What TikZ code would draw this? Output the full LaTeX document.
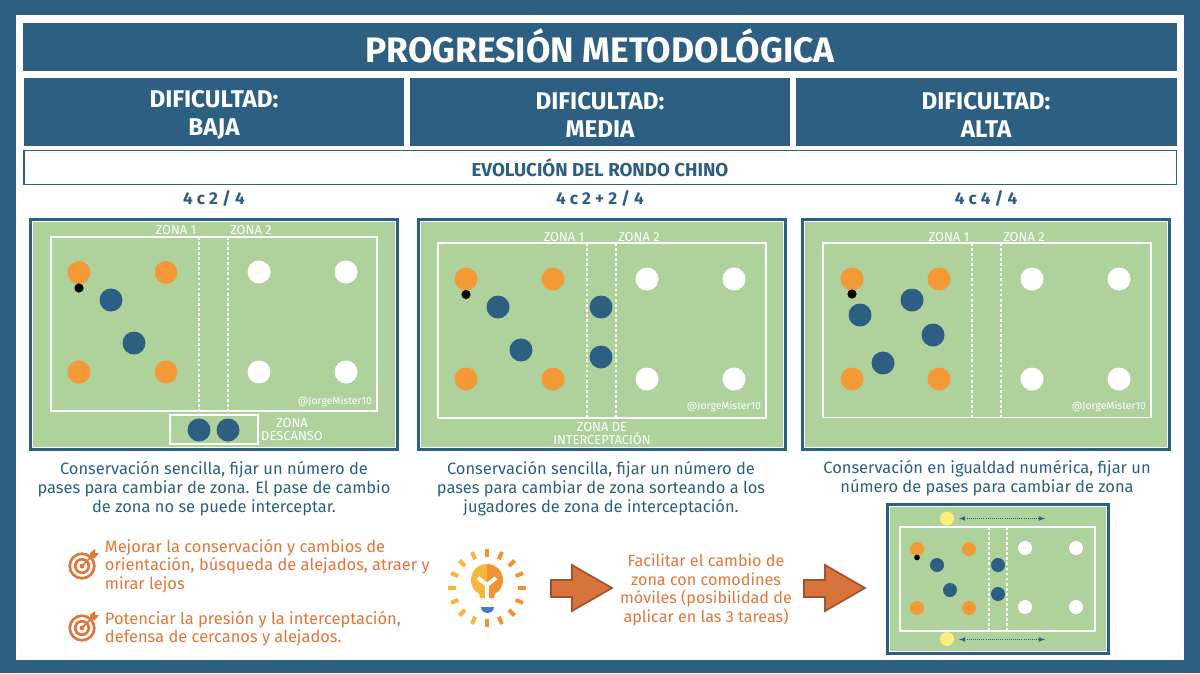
\documentclass[tikz,border=0pt]{standalone}
\usepackage{fontspec}
\setmainfont{Fira Sans}
\definecolor{frameblue}{HTML}{2C5F82}
\definecolor{pitchgreen}{HTML}{AFD19B}
\definecolor{playerorange}{HTML}{F39A36}
\definecolor{textorange}{HTML}{E0773A}
\definecolor{arrowfill}{HTML}{D9733C}
\definecolor{arrowedge}{HTML}{A0532A}
\definecolor{bulbyellow}{HTML}{F6B73C}
\definecolor{bulborange}{HTML}{F39233}
\definecolor{capblue}{HTML}{4A78C8}
\definecolor{spareyellow}{HTML}{FBF07C}
\usetikzlibrary{positioning}
\usetikzlibrary{calc}
\tikzset{
  titletext/.style={text=white, font=\fontsize{25.2}{29}\selectfont\bfseries},
  headtext/.style={text=white, font=\fontsize{17.2}{20}\selectfont\bfseries, align=center},
  blueheading/.style={text=frameblue, font=\fontsize{12.2}{15}\selectfont\bfseries},
  bandtext/.style={text=frameblue, font=\fontsize{13.3}{15}\selectfont\bfseries},
  desctext/.style={text=frameblue, font=\fontsize{11.7}{13.5}\selectfont, align=center},
  goaltext/.style={text=textorange, font=\fontsize{11.7}{13}\selectfont, align=left, anchor=west},
  tiptext/.style={text=textorange, font=\fontsize{11.5}{13.3}\selectfont, align=center},
  zonetext/.style={text=white, font=\fontsize{9.2}{9.3}\selectfont, align=center},
  marktext/.style={text=white, font=\fontsize{7.4}{9}\selectfont, anchor=east},
  pitchline/.style={draw=white, line width=0.8pt},
  zoneline/.style={draw=white, line width=0.8pt, dash pattern=on 2pt off 1.6pt},
  bigarrow/.style={fill=arrowfill, draw=arrowedge, line width=1.2pt, line join=miter},
  targetring/.style={draw=textorange, line width=1.9pt},
}
\begin{document}
\begin{tikzpicture}[x=0.025cm, y=-0.025cm]

    \useasboundingbox (0,0) rectangle (1200,673);
    \fill[frameblue] (0,0) rectangle (1200,673);
    \fill[white] (16,14.5) rectangle (1184,660);

    % bars
    \fill[frameblue] (23,22.5) rectangle (1177,71);
    \node[titletext] (title) at (600,46) {PROGRESIÓN METODOLÓGICA};
    \fill[frameblue] (24,77.5) rectangle (404,145.5);
    \fill[frameblue] (410,77.5) rectangle (790,145.5);
    \fill[frameblue] (796,77.5) rectangle (1177,145.5);
    \node[headtext] (headlow) at (214,115) {DIFICULTAD:\\BAJA};
    \node[headtext] (headmid) at (600,115) {DIFICULTAD:\\MEDIA};
    \node[headtext] (headhigh) at (986,115) {DIFICULTAD:\\ALTA};
    \draw[frameblue, line width=1.1pt] (24,150.5) rectangle (1176.5,184.5);
    \node[bandtext] (band) at (600,167.5) {EVOLUCIÓN DEL RONDO CHINO};
    \node[blueheading] (taskone) at (214,198) {4 c 2 / 4};
    \node[blueheading] (tasktwo) at (600,198) {4 c 2 + 2 / 4};
    \node[blueheading] (taskthree) at (986,198) {4 c 4 / 4};

    % pitches
    \foreach \xa/\ya/\xb/\yb in {29/218/399/451, 417/218/787/451, 801/218/1171/451, 886/503/1110/655}{
        \fill[frameblue] (\xa,\ya) rectangle (\xb,\yb);
        \fill[white] (\xa+3,\ya+3) rectangle (\xb-3,\yb-3);
        \fill[pitchgreen] (\xa+4,\ya+4) rectangle (\xb-4,\yb-4);
    }
    \foreach \xa/\ya/\xb/\yb/\da/\db in {51/237/377/411/199/228, 438/243/766/418/587/616, 823/243/1151/417.5/972/1001, 900/527/1095/631/989/1007}{
        \draw[pitchline] (\xa,\ya) rectangle (\xb,\yb);
        \draw[zoneline] (\da,\ya) -- (\da,\yb);
        \draw[zoneline] (\db,\ya) -- (\db,\yb);
    }
    \draw[pitchline] (170,415) rectangle (258,444);

    % zone labels
    \node[zonetext] (zoneonea) at (176,230) {ZONA 1};
    \node[zonetext] (zoneoneb) at (251,230) {ZONA 2};
    \node[zonetext] (zonetwoa) at (564,237) {ZONA 1};
    \node[zonetext] (zonetwob) at (639,237) {ZONA 2};
    \node[zonetext] (zonethreea) at (949,237) {ZONA 1};
    \node[zonetext] (zonethreeb) at (1024,237) {ZONA 2};
    \node[zonetext] (rest) at (292,429.5) {ZONA\\DESCANSO};
    \node[zonetext] (intercept) at (602,433.5) {ZONA DE\\INTERCEPTACIÓN};
    \node[marktext] (markone) at (377,402) {@JorgeMister10};
    \node[marktext] (marktwo) at (766,407) {@JorgeMister10};
    \node[marktext] (markthree) at (1151,407) {@JorgeMister10};

    % players
    \foreach \x/\y in {79/272.5, 166/272.5, 79/372, 166/372, 466/279, 553/279, 466/379, 553/379, 852/279, 939/279, 852/379, 939/379}
        \fill[playerorange] (\x,\y) circle (11.5);
    \foreach \x/\y in {259/272, 346/272, 259/372, 346/372, 647/279, 734/279, 647/379, 734/379, 1032/279, 1119/279, 1032/379, 1119/379}
        \fill[white] (\x,\y) circle (11.5);
    \foreach \x/\y in {111/300, 134/343, 199/430, 228/430, 498/307, 521/350, 601/307, 601/357, 912/300, 860/315, 933/335, 883/363}
        \fill[frameblue] (\x,\y) circle (11.5);
    \foreach \x/\y in {79/288, 466/294.5, 852/294}
        \fill[black] (\x,\y) circle (4.6);

    % small pitch
    \foreach \x/\y in {917/549, 969/549, 917/608, 969/608}
        \fill[playerorange] (\x,\y) circle (7);
    \foreach \x/\y in {1025/548, 1076/548, 1025/607, 1076/607}
        \fill[white] (\x,\y) circle (7);
    \foreach \x/\y in {937/565, 998/565, 950/590, 998/594}
        \fill[frameblue] (\x,\y) circle (7);
    \fill[black] (917,557.5) circle (2.8);
    \fill[spareyellow] (947,518.5) circle (7);
    \fill[spareyellow] (947,639) circle (7);
    \coordinate (topa) at (959,518.5);
    \coordinate (topb) at (1045,518.5);
    \coordinate (bota) at (959,639.5);
    \coordinate (botb) at (1045,639.5);
    \draw[latex-latex, frameblue, line width=0.5pt, densely dotted] (topa) -- (topb);
    \draw[latex-latex, frameblue, line width=0.5pt, densely dotted] (bota) -- (botb);

    % descriptions
    \node[desctext] (descone) at (214,488.5) {Conservación sencilla, fijar un número de\\pases para cambiar de zona. El pase de cambio\\de zona no se puede interceptar.};
    \node[desctext] (desctwo) at (601,488.5) {Conservación sencilla, fijar un número de\\pases para cambiar de zona sorteando a los\\jugadores de zona de interceptación.};
    \node[desctext] (descthree) at (987,478.5) {Conservación en igualdad numérica, fijar un\\número de pases para cambiar de zona};

    % goals
    \node[goaltext] (goalone) at (100,566) {Mejorar la conservación y cambios de\\orientación, búsqueda de alejados, atraer y\\mirar lejos};
    \node[goaltext] (goaltwo) at (100,628.5) {Potenciar la presión y la interceptación,\\defensa de cercanos y alejados.};
    \foreach \ty in {565,627}{
        \draw[targetring] (82,\ty+1) circle (12.3);
        \draw[targetring] (82,\ty+1) circle (6.8);
        \fill[textorange] (82,\ty+1) circle (2.4);
        \draw[textorange, line width=1.2pt] (82,\ty+1) -- (92,\ty-9);
        \fill[textorange] (90,\ty-7) -- (90,\ty-12) -- (95,\ty-16) -- (95,\ty-12) -- (99,\ty-12) -- (95,\ty-7) -- cycle;
    }

    % bulb
    \foreach \a in {112.5,135,...,247.5}
        \draw[bulbyellow, line width=2.8pt] ($(487,588)+(\a:31)$) -- ($(487,588)+(\a:39)$);
    \foreach \a in {-90,-67.5,...,90}
        \draw[bulborange, line width=2.8pt] ($(487,588)+(\a:31)$) -- ($(487,588)+(\a:39)$);
    \fill[bulbyellow] (487,564) arc (270:135:16) .. controls (478,592) and (480,594) .. (480,598) -- (487,598) -- cycle;
    \fill[bulborange] (487,564) arc (-90:45:16) .. controls (496,592) and (494,594) .. (494,598) -- (487,598) -- cycle;
    \draw[white, line width=2.8pt] (487,598) -- (487,585) (478,578) -- (487,585) -- (496,578);
    \fill[capblue] (494,607) arc (0:180:6.5 and 6) -- cycle;

    % arrows
    \draw[bigarrow] (551,580) -- (572,580) -- (572,565) -- (612,588) -- (572,611) -- (572,597) -- (551,597) -- cycle;
    \draw[bigarrow] (804,580) -- (825,580) -- (825,565) -- (865,588) -- (825,611) -- (825,597) -- (804,597) -- cycle;
    \node[tiptext] (tip) at (706,590) {Facilitar el cambio de\\zona con comodines\\móviles (posibilidad de\\aplicar en las 3 tareas)};

\end{tikzpicture}
\end{document}
